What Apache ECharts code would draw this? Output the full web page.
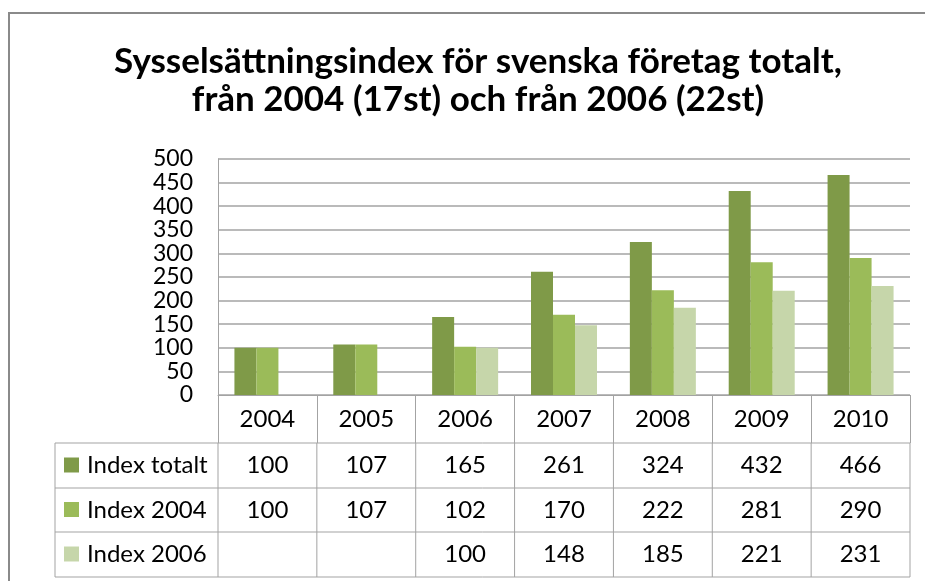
<!DOCTYPE html>
<html>
<head>
<meta charset="utf-8">
<script src="https://cdn.jsdelivr.net/npm/echarts@6/dist/echarts.min.js"></script>
<style>
  html, body { margin: 0; padding: 0; background: #fff; }
  #chart { width: 925px; height: 581px; }
</style>
</head>
<body>
<div id="chart"></div>
<script>
const years = ["2004", "2005", "2006", "2007", "2008", "2009", "2010"];
const seriesNames = ["Index totalt", "Index 2004", "Index 2006"];
const indexTotalt = [100, 107, 165, 261, 324, 432, 466];
const index2004 = [100, 107, 102, 170, 222, 281, 290];
const index2006 = [null, null, 100, 148, 185, 221, 231];
const yTicks = [0, 50, 100, 150, 200, 250, 300, 350, 400, 450, 500];

const colors = ["#7F9A48", "#9BBB59", "#C6D6AA"];
const lineColor = "#A3A3A3";
const font = "Lato, 'Open Sans', sans-serif";

const chartDom = document.getElementById("chart");
const chart = echarts.init(chartDom);

const allSeries = [indexTotalt, index2004, index2006];

const option = {
  animation: false,
  backgroundColor: "#fff",
  title: {
    text: "Sysselsättningsindex för svenska företag totalt,\nfrån 2004 (17st) och från 2006 (22st)",
    left: 473,
    top: 38,
    textAlign: "center",
    textStyle: {
      fontFamily: font,
      fontWeight: "bold",
      fontSize: 35,
      lineHeight: 38,
      color: "#000",
    },
  },
  grid: {
    left: 218,
    top: 159,
    right: 15,
    bottom: 186,
    containLabel: false,
  },
  xAxis: {
    type: "category",
    data: years,
    axisLine: { show: true, lineStyle: { color: lineColor, width: 1 } },
    axisTick: { show: true, length: 48, lineStyle: { color: lineColor, width: 1 } },
    axisLabel: {
      margin: 0,
      lineHeight: 48,
      fontSize: 24,
      fontFamily: font,
      color: "#000",
    },
  },
  yAxis: {
    type: "value",
    min: yTicks[0],
    max: yTicks[yTicks.length - 1],
    interval: 50,
    axisLine: { show: true, lineStyle: { color: lineColor, width: 1 } },
    axisTick: { show: false },
    axisLabel: {
      margin: 25,
      fontSize: 23,
      fontFamily: font,
      color: "#000",
    },
    splitLine: { show: true, lineStyle: { color: lineColor, width: 1.5 } },
  },
  series: allSeries.map((data, i) => ({
    name: seriesNames[i],
    type: "bar",
    data: data,
    barWidth: 22,
    barGap: "0%",
    itemStyle: { color: colors[i] },
  })),
};

chart.setOption(option);

// data table below the axis, positioned from the category axis
const buildTable = () => {
  const c0 = chart.convertToPixel({ xAxisIndex: 0 }, 0);
  const c1 = chart.convertToPixel({ xAxisIndex: 0 }, 1);
  const band = c1 - c0;
  const plotLeft = c0 - band / 2;
  const plotRight = plotLeft + band * years.length;
  const tableLeft = 55;
  const rowTops = [443, 488, 532, 577];
  const elements = [];
  const ls = { stroke: lineColor, lineWidth: 1 };

  rowTops.forEach((y) => {
    elements.push({ type: "line", shape: { x1: tableLeft, y1: y, x2: plotRight, y2: y }, style: ls, silent: true });
  });
  elements.push({ type: "line", shape: { x1: tableLeft, y1: rowTops[0], x2: tableLeft, y2: rowTops[3] }, style: ls, silent: true });
  for (let k = 0; k <= years.length; k++) {
    const x = plotLeft + band * k;
    elements.push({ type: "line", shape: { x1: x, y1: rowTops[0], x2: x, y2: rowTops[3] }, style: ls, silent: true });
  }

  allSeries.forEach((data, r) => {
    const cy = (rowTops[r] + rowTops[r + 1]) / 2;
    elements.push({
      type: "rect",
      shape: { x: 64, y: cy - 8, width: 15, height: 15 },
      style: { fill: colors[r] },
      silent: true,
    });
    elements.push({
      type: "text",
      x: 87,
      y: cy,
      style: { text: seriesNames[r], font: "24px " + font, fill: "#000", textVerticalAlign: "middle", textAlign: "left" },
      silent: true,
    });
    data.forEach((v, i) => {
      if (v === null) return;
      elements.push({
        type: "text",
        x: chart.convertToPixel({ xAxisIndex: 0 }, i),
        y: cy,
        style: { text: String(v), font: "24px " + font, fill: "#000", textAlign: "center", textVerticalAlign: "middle" },
        silent: true,
      });
    });
  });

  // outer chart frame
  elements.push({
    type: "rect",
    shape: { x: 9, y: 13, width: 1000, height: 1000 },
    style: { fill: "none", stroke: "#8A8A8A", lineWidth: 2 },
    silent: true,
  });

  chart.setOption({ graphic: { elements: elements } });
};

buildTable();
</script>
</body>
</html>
